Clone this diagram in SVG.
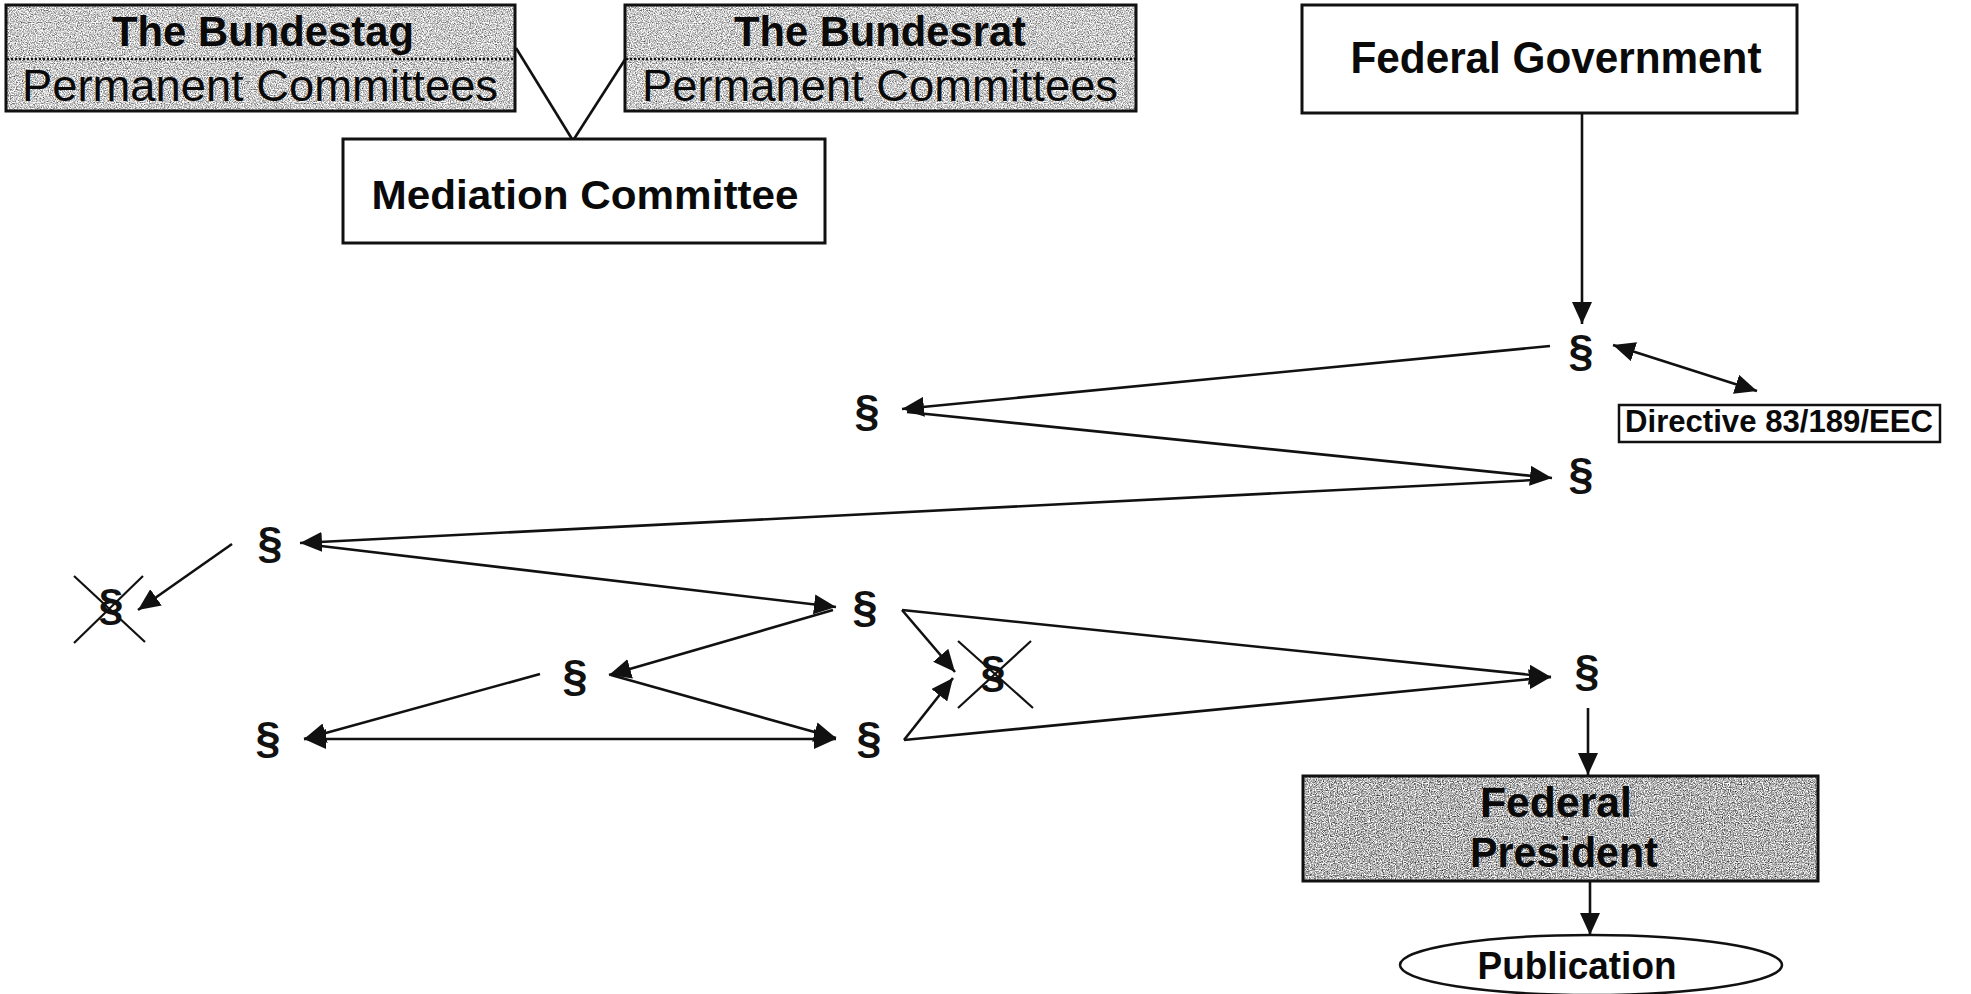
<svg xmlns="http://www.w3.org/2000/svg" width="1971" height="994" viewBox="0 0 1971 994">
  <style>
    .bg { fill: #ffffff; }
    .frame { fill: none; stroke: #111; stroke-width: 3; }
    .plain { fill: #ffffff; stroke: #111; stroke-width: 3; }
    .divider { stroke: #111; stroke-width: 2.5; stroke-dasharray: 2 2; }
    .t { font-family: "Liberation Sans", Arial, Helvetica, sans-serif; fill: #0a0a0a; text-anchor: middle; }
    .b { font-weight: bold; }
    .para { font-family: "Liberation Sans", Arial, Helvetica, sans-serif; font-weight: bold; font-size: 45px; fill: #111; text-anchor: middle; }
    .conn line { stroke: #111; stroke-width: 2.6; fill: none; }
    .arrow { marker-end: url(#head); }
    .both { marker-start: url(#head); marker-end: url(#head); }
    .strike { stroke: #111; stroke-width: 2.2; }
  </style>
  <defs>
    <marker id="head" markerUnits="userSpaceOnUse" markerWidth="24" markerHeight="20" refX="22" refY="10" orient="auto-start-reverse">
      <path d="M0,0 L22,10 L0,20 Z" fill="#111"/>
    </marker>
    <!-- halftone-like grey texture for the shaded boxes -->
    <filter id="grainLight" x="0" y="0" width="100%" height="100%" color-interpolation-filters="sRGB">
      <feTurbulence type="fractalNoise" baseFrequency="0.85" numOctaves="2" seed="7" result="n"/>
      <feColorMatrix in="n" type="matrix" values="1.4 0 0 0 0.09  1.4 0 0 0 0.09  1.4 0 0 0 0.09  0 0 0 0 1" result="g"/>
      <feComposite in="g" in2="SourceGraphic" operator="in"/>
    </filter>
    <filter id="grainDark" x="0" y="0" width="100%" height="100%" color-interpolation-filters="sRGB">
      <feTurbulence type="fractalNoise" baseFrequency="0.85" numOctaves="2" seed="11" result="n"/>
      <feColorMatrix in="n" type="matrix" values="1.6 0 0 0 -0.1  1.6 0 0 0 -0.1  1.6 0 0 0 -0.1  0 0 0 0 1" result="g"/>
      <feComposite in="g" in2="SourceGraphic" operator="in"/>
    </filter>
  </defs>

  <rect class="bg" x="0" y="0" width="1971" height="994"/>

  <!-- connectors -->
  <g id="connectors" class="conn">
    <line x1="516" y1="48" x2="572" y2="139"/>
    <line x1="626" y1="58" x2="574" y2="139"/>
    <line class="arrow" x1="1582" y1="113" x2="1582" y2="324"/>
    <line class="both" x1="1613" y1="345" x2="1757" y2="391"/>
    <line class="arrow" x1="1550" y1="346" x2="902" y2="409"/>
    <line class="arrow" x1="907" y1="412" x2="1552" y2="478"/>
    <line class="arrow" x1="1535" y1="480" x2="300" y2="543"/>
    <line class="arrow" x1="232" y1="544" x2="138" y2="610"/>
    <line class="arrow" x1="321" y1="546" x2="836" y2="607"/>
    <line class="arrow" x1="833" y1="610" x2="609" y2="675"/>
    <line class="arrow" x1="540" y1="674" x2="304" y2="739"/>
    <line class="arrow" x1="611" y1="675" x2="836" y2="738"/>
    <line class="both" x1="304" y1="739" x2="836" y2="739"/>
    <line class="arrow" x1="902" y1="610" x2="955" y2="672"/>
    <line class="arrow" x1="904" y1="740" x2="953" y2="678"/>
    <line class="arrow" x1="902" y1="610" x2="1551" y2="677"/>
    <line class="arrow" x1="904" y1="740" x2="1551" y2="677"/>
    <line class="arrow" x1="1588" y1="708" x2="1588" y2="775"/>
    <line class="arrow" x1="1590" y1="881" x2="1590" y2="935"/>
  </g>

  <!-- The Bundestag -->
  <g id="bundestag">
    <rect x="6" y="5" width="509" height="106" fill="#000" filter="url(#grainLight)"/>
    <rect class="frame" x="6" y="5" width="509" height="106"/>
    <line class="divider" x1="7" y1="59" x2="514" y2="59"/>
    <text class="t b" x="263" y="46" font-size="42" textLength="302" lengthAdjust="spacingAndGlyphs">The Bundestag</text>
    <text class="t" x="260" y="101" font-size="44" textLength="476" lengthAdjust="spacingAndGlyphs">Permanent Committees</text>
  </g>

  <!-- The Bundesrat -->
  <g id="bundesrat">
    <rect x="625" y="5" width="511" height="106" fill="#000" filter="url(#grainLight)"/>
    <rect class="frame" x="625" y="5" width="511" height="106"/>
    <line class="divider" x1="626" y1="59" x2="1135" y2="59"/>
    <text class="t b" x="880" y="46" font-size="42" textLength="292" lengthAdjust="spacingAndGlyphs">The Bundesrat</text>
    <text class="t" x="880" y="101" font-size="44" textLength="476" lengthAdjust="spacingAndGlyphs">Permanent Committees</text>
  </g>

  <!-- Mediation Committee -->
  <g id="mediation">
    <rect class="plain" x="343" y="139" width="482" height="104"/>
    <text class="t b" x="585" y="209" font-size="41" textLength="427" lengthAdjust="spacingAndGlyphs">Mediation Committee</text>
  </g>

  <!-- Federal Government -->
  <g id="federal-government">
    <rect class="plain" x="1302" y="5" width="495" height="108"/>
    <text class="t b" x="1556" y="73" font-size="44" textLength="411" lengthAdjust="spacingAndGlyphs">Federal Government</text>
  </g>

  <!-- Directive -->
  <g id="directive">
    <rect class="plain" x="1619" y="405" width="321" height="37" style="stroke-width:2.5"/>
    <text class="t b" x="1779" y="432" font-size="31" textLength="308" lengthAdjust="spacingAndGlyphs">Directive 83/189/EEC</text>
  </g>

  <!-- section nodes -->
  <g id="sec-1"><text class="para" x="1581" y="366">§</text></g>
  <g id="sec-2"><text class="para" x="867" y="426">§</text></g>
  <g id="sec-3"><text class="para" x="1581" y="489">§</text></g>
  <g id="sec-4"><text class="para" x="270" y="558">§</text></g>
  <g id="sec-5">
    <text class="para" x="111" y="620">§</text>
    <line class="strike" x1="74" y1="576" x2="145" y2="642"/>
    <line class="strike" x1="74" y1="643" x2="143" y2="576"/>
  </g>
  <g id="sec-6"><text class="para" x="865" y="622">§</text></g>
  <g id="sec-7"><text class="para" x="575" y="691">§</text></g>
  <g id="sec-8">
    <text class="para" x="993" y="687">§</text>
    <line class="strike" x1="958" y1="641" x2="1033" y2="708"/>
    <line class="strike" x1="958" y1="708" x2="1031" y2="641"/>
  </g>
  <g id="sec-9"><text class="para" x="1587" y="686">§</text></g>
  <g id="sec-10"><text class="para" x="268" y="753">§</text></g>
  <g id="sec-11"><text class="para" x="869" y="753">§</text></g>

  <!-- Federal President -->
  <g id="federal-president">
    <rect x="1303" y="776" width="515" height="105" fill="#000" filter="url(#grainDark)"/>
    <rect class="frame" x="1303" y="776" width="515" height="105"/>
    <text class="t b" x="1556" y="817" font-size="43" textLength="152" lengthAdjust="spacingAndGlyphs">Federal</text>
    <text class="t b" x="1564" y="867" font-size="43" textLength="188" lengthAdjust="spacingAndGlyphs">President</text>
  </g>

  <!-- Publication -->
  <g id="publication">
    <ellipse class="plain" cx="1591" cy="965" rx="191" ry="30" style="stroke-width:2.5"/>
    <text class="t b" x="1577" y="979" font-size="39" textLength="199" lengthAdjust="spacingAndGlyphs">Publication</text>
  </g>
</svg>
